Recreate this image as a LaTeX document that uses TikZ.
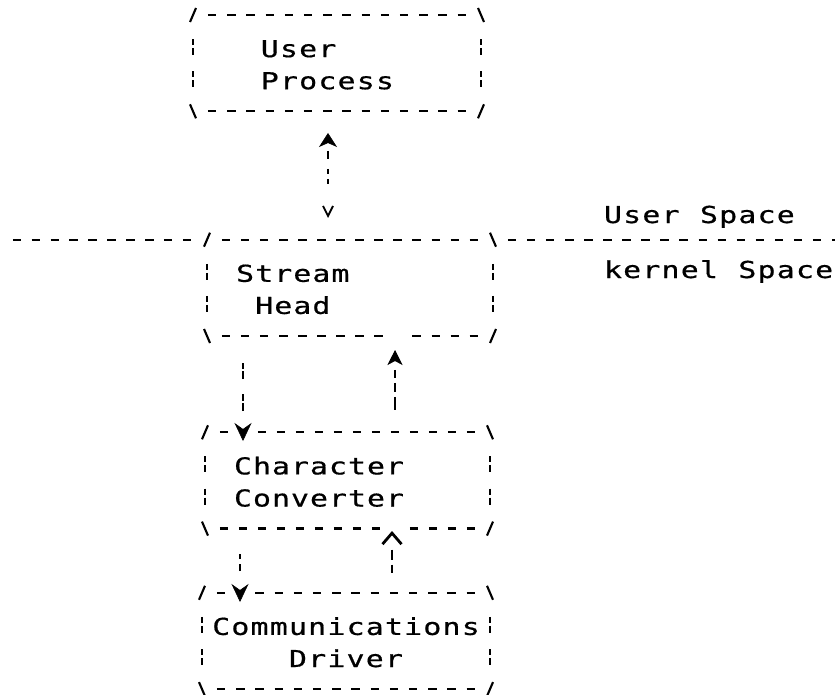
\documentclass[tikz,border=0pt]{standalone}
\usepackage{fontspec}
\newfontfamily\asciifont[FakeStretch=1.28,FakeBold=0.6]{DejaVu Sans Mono}
\usetikzlibrary{arrows.meta}

% one character per fixed-width cell, like a line printer
\makeatletter
\newcommand\spacedword[2]{\@tfor\sw@ch:=#2\do{\makebox[#1][c]{\sw@ch}}}
\makeatother

% vertical position of a printed row
\newcommand\rowy[1]{(15+32.1*(#1))}

\tikzset{
  ink/.style={line width=2.1pt},
  dashmark/.style={line width=2.3pt},
  sidemark/.style={line width=2.1pt, dash pattern=on 6pt off 3pt on 7pt off 16.1pt},
  boxarea/.style={rectangle, draw=none, inner sep=0pt, outer sep=0pt},
  asciitext/.style={inner sep=0pt, outer sep=0pt, anchor=base west,
    font=\asciifont\fontsize{23.3pt}{28pt}\selectfont},
  linkline/.style={line width=2.1pt},
  % arrow heads: bold caret, bold V, thin v, thin caret
  upbothlink/.style={{Stealth[length=14pt,width=18pt,inset=4pt,line width=0.6pt]}-{Straight Barb[length=10pt,width=10pt,line width=1.8pt]}},
  downboldlink/.style={{Stealth[length=18pt,width=17pt,inset=6pt,line width=0.6pt]}-},
  upboldlink/.style={{Stealth[length=15pt,width=15pt,inset=4pt,line width=0.6pt]}-},
  upthinlink/.style={{Straight Barb[length=11pt,width=19pt,line width=2.8pt]}-},
}

% box drawn with printer characters:  / - - - \   : :   \ - - - /
% #1 name, #2 left x, #3 right x, #4 top row, #5 bottom row,
% #6 dash columns on the top edge, #7 dash columns on the bottom edge
\newcommand\asciibox[7]{%
  \pgfmathsetmacro\bxp{(#3-#2)/15}%
  \pgfmathsetmacro\byt{15+32.1*#4}%
  \pgfmathsetmacro\byb{15+32.1*#5}%
  \node[boxarea, minimum width={(#3-#2)*1pt}, minimum height={(\byb-\byt)*1pt}]
    (#1) at ({(#2+#3)/2},{(\byt+\byb)/2}) {};
  \draw[ink] (#1.north west) ++(-3,7) -- ++(6,-14);
  \draw[ink] (#1.north east) ++(-3,-7) -- ++(6,14);
  \draw[ink] (#1.south west) ++(-3,-7) -- ++(6,14);
  \draw[ink] (#1.south east) ++(-3,7) -- ++(6,-14);
  \foreach \k in {#6} \draw[dashmark] ([xshift={\k*\bxp-4.25}]#1.north west) -- ++(8.5,0);
  \foreach \k in {#7} \draw[dashmark] ([xshift={\k*\bxp-4.25}]#1.south west) -- ++(8.5,0);
  \draw[sidemark] ([yshift=-24.1pt]#1.north west) -- ([yshift=24.1pt]#1.south west);
  \draw[sidemark] ([yshift=-24.1pt]#1.north east) -- ([yshift=24.1pt]#1.south east);
}

\begin{document}
\begin{tikzpicture}[x=1pt,y=-1pt]
\fill[white] (0,0) rectangle (835,695);
\useasboundingbox (0,0) rectangle (835,695);

% the four boxes
\asciibox{user}{193}{481}{0}{3}{1,...,14}{1,...,14}
\asciibox{stream}{207}{493}{7}{10}{1,...,14}{1,...,9,11,12,13,14}
\asciibox{conv}{205}{490}{13}{16}{1,3,4,...,14}{1,...,9,11,12,13,14}
\asciibox{driver}{202}{490}{18}{21}{1,3,4,...,14}{1,...,14}

% user/kernel boundary on either side of the stream head
\foreach \c in {0,...,9}
  \draw[dashmark] ({17+18.9*\c-4.25},{\rowy{7}}) -- ++(8.5,0);
\foreach \k in {1,...,18}
  \draw[dashmark] ({493+19.07*\k-4.25},{\rowy{7}}) -- ++(8.5,0);

% box texts
\node[asciitext] (userA) at (260.2,57.1) {\spacedword{19.2pt}{User}};
\node[asciitext] (userB) at (260.2,89.2) {\spacedword{19.2pt}{Process}};
\node[asciitext] (streamA) at (235.6,281.8) {\spacedword{19.07pt}{Stream}};
\node[asciitext] (streamB) at (254.7,313.9) {\spacedword{19.07pt}{Head}};
\node[asciitext] (convA) at (233.5,474.4) {\spacedword{19pt}{Character}};
\node[asciitext] (convB) at (233.5,506.5) {\spacedword{19pt}{Converter}};
\node[asciitext] (drvA) at (211.6,634.9) {\spacedword{19.2pt}{Communications}};
\node[asciitext] (drvB) at (288.4,667) {\spacedword{19.2pt}{Driver}};

% space labels
\node[asciitext] (uspace) at (603.4,223) {\spacedword{19.2pt}{User}\hspace{19.2pt}\spacedword{19.2pt}{Space}};
\node[asciitext] (kspace) at (603.4,278) {\spacedword{19.2pt}{kernel}\hspace{19.2pt}\spacedword{19.2pt}{Space}};

% connectors
\draw[linkline, upbothlink, shorten <=21.7pt, shorten >=21.7pt,
  dash pattern=on 0pt off 8pt on 8pt off 10pt on 5pt off 5pt on 5pt off 200pt]
  ([xshift=-9pt]user.south) -- ([xshift=-22pt]stream.north);
\draw[linkline, downboldlink, shorten <=-8.7pt,
  dash pattern=on 0pt off 18pt on 8pt off 2pt on 7pt off 15pt on 8pt off 2pt on 6pt off 200pt]
  ([xshift=-104.5pt]conv.north) -- ([xshift=-107pt]stream.south);
\draw[linkline, upboldlink, shorten <=14pt,
  dash pattern=on 0pt off 9pt on 8pt off 5pt on 9pt off 5pt on 13pt off 200pt]
  ([xshift=45pt]stream.south) -- ([xshift=47.5pt]conv.north);
\draw[linkline, downboldlink, shorten <=-9.2pt,
  dash pattern=on 0pt off 19pt on 7pt off 5pt on 5pt off 200pt]
  ([xshift=-106pt]driver.north) -- ([xshift=-107.5pt]conv.south);
\draw[linkline, upthinlink, shorten <=2.4pt,
  dash pattern=on 0pt off 15pt on 10pt off 5pt on 8pt off 200pt]
  ([xshift=44.5pt]conv.south) -- ([xshift=46pt]driver.north);
\end{tikzpicture}
\end{document}
